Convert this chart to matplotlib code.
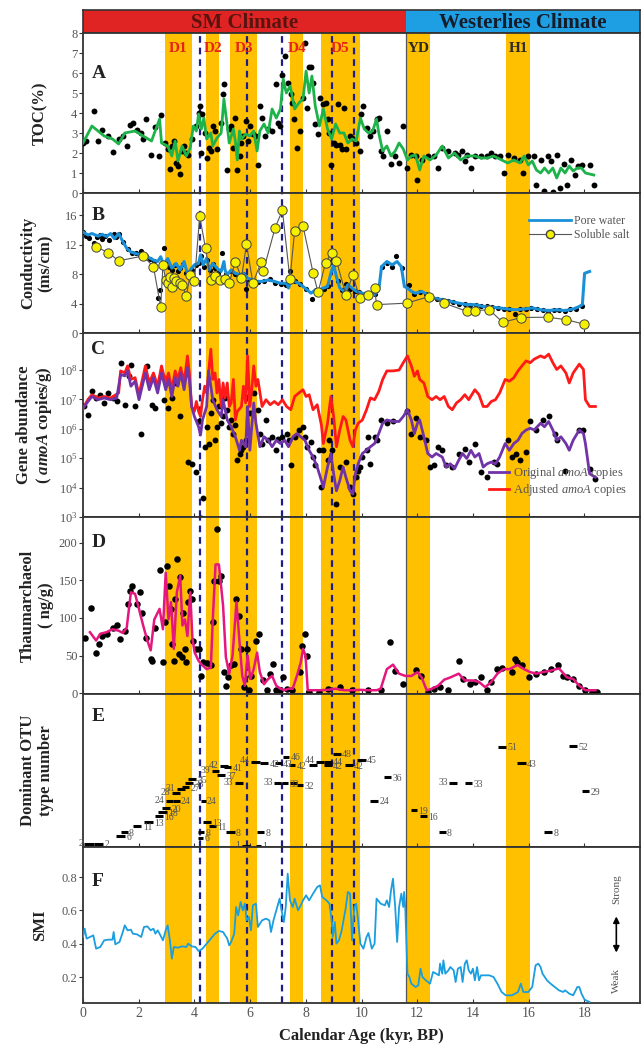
import numpy as np
import matplotlib
matplotlib.use("Agg")
import matplotlib.pyplot as plt
from matplotlib.lines import Line2D

plt.rcParams['font.family'] = ['Liberation Serif', 'DejaVu Serif']
plt.rcParams['mathtext.fontset'] = 'custom'
plt.rcParams['mathtext.rm'] = 'Liberation Serif'
plt.rcParams['mathtext.it'] = 'Liberation Serif:italic'
plt.rcParams['mathtext.bf'] = 'Liberation Serif:bold'
plt.rcParams['mathtext.bfit'] = 'Liberation Serif:bold:italic'

# ---------------- data ----------------
bands = [(2.95, 3.9), (4.43, 4.9), (5.29, 6.25), (7.44, 7.91), (8.54, 9.94), (11.65, 12.47), (15.19, 16.06)]
band_names = ['D1', 'D2', 'D3', 'D4', 'D5', 'YD', 'H1']
dashed_ages = [4.19, 5.88, 7.16, 8.94, 9.74]
boundary_age = 11.6
climate_names = ['SM Climate', 'Westerlies Climate']

# A: TOC
toc_dot_age = [0, 0.1, 0.4, 0.55, 0.7, 0.9, 1.06, 1.28, 1.43, 1.57, 1.69, 1.8, 1.94, 2.09, 2.16, 2.28, 2.43, 2.57, 2.72, 2.79,
               2.93, 3.04, 3.12, 3.19, 3.26, 3.34, 3.41, 3.49, 3.56, 3.63, 3.71, 3.78, 3.93, 4.04, 4.15, 4.19, 4.25, 4.29, 4.37, 4.44,
               4.51, 4.59, 4.66, 4.74, 4.81, 4.96, 5.03, 5.07, 5.18, 5.25, 5.31, 5.4, 5.47, 5.54, 5.62, 5.69, 5.76, 5.84, 5.91, 5.99,
               6.1, 6.2, 6.28, 6.35, 6.43, 6.54, 6.65, 6.79, 6.94, 7.01, 7.09, 7.16, 7.26, 7.35, 7.46, 7.49, 7.57, 7.68, 7.78, 7.9,
               7.97, 8.04, 8.12, 8.19, 8.26, 8.34, 8.44, 8.51, 8.6, 8.71, 8.78, 8.85, 8.9, 9.0, 9.07, 9.15, 9.22, 9.29, 9.37, 9.44,
               9.59, 9.66, 9.81, 9.93, 9.99, 10.07, 10.18, 10.32, 10.43, 10.54, 10.62, 10.69, 10.76, 10.91, 11.06, 11.21, 11.35, 11.5,
               11.65, 11.79, 11.94, 12.01, 12.16, 12.38, 12.6, 12.75, 12.9, 13.12, 13.34, 13.48, 13.6, 13.71, 13.78, 13.93, 14.07,
               14.29, 14.51, 14.66, 14.81, 14.96, 15.13, 15.25, 15.47, 15.69, 15.81, 15.99, 16.2, 16.28, 16.43, 16.54, 16.69, 16.79,
               16.87, 17.01, 17.13, 17.28, 17.38, 17.53, 17.68, 17.78, 17.93, 18.19, 18.34]
toc_dot_val = [2.5, 2.6, 4.1, 2.6, 3.15, 2.85, 2.05, 2.7, 2.85, 2.35, 3.4, 3.5, 3.15, 3.0, 2.7, 3.7, 1.9, 3.3, 1.85, 3.9,
               2.5, 2.2, 1.2, 2.35, 2.6, 1.5, 1.35, 0.95, 2.1, 2.35, 2.0, 1.9, 2.7, 3.35, 4.0, 4.35, 2.0, 3.95, 3.0, 1.75,
               2.25, 2.1, 3.35, 3.1, 2.2, 3.5, 4.95, 5.45, 1.15, 3.2, 3.35, 2.25, 3.75, 1.15, 1.85, 2.5, 2.85, 3.6, 2.6, 3.35,
               2.95, 2.85, 1.4, 4.35, 3.75, 2.85, 3.2, 3.1, 5.45, 3.5, 3.35, 5.9, 6.85, 5.5, 4.95, 4.5, 3.7, 2.25, 3.1, 4.75,
               7.5, 4.25, 6.3, 6.3, 5.5, 3.45, 2.95, 4.75, 4.45, 4.5, 3.7, 3.0, 1.4, 2.5, 2.4, 4.45, 2.4, 2.2, 4.25, 2.2,
               2.85, 2.75, 2.5, 2.1, 3.95, 4.35, 3.25, 2.85, 3.1, 3.7, 3.75, 2.1, 1.85, 3.1, 1.45, 1.85, 1.5, 3.35,
               1.25, 1.9, 1.85, 0.65, 1.65, 1.85, 1.85, 1.25, 2.25, 2.1, 2.0, 1.9, 2.1, 1.6, 1.9, 1.25, 1.85,
               1.85, 1.85, 2.0, 1.85, 1.85, 1.0, 1.9, 1.75, 1.65, 1.0, 1.85, 1.85, 0.4, 1.65, 0.1, 1.85, 1.6,
               0.05, 1.9, 0.25, 1.45, 0.4, 1.65, 0.9, 1.35, 1.4, 1.4, 0.4]
toc_line_age = [0, 0.32, 0.54, 0.76, 1.06, 1.28, 1.5, 1.87, 2.16, 2.46, 2.75, 2.82, 3.04, 3.19, 3.31, 3.41, 3.56, 3.71, 3.85, 3.96,
                4.07, 4.15, 4.25, 4.34, 4.44, 4.59, 4.66, 4.81, 4.96, 5.06, 5.18, 5.25, 5.4, 5.47, 5.54, 5.62, 5.69, 5.84, 5.99, 6.13,
                6.25, 6.35, 6.5, 6.65, 6.79, 6.94, 7.09, 7.19, 7.3, 7.44, 7.6, 7.75, 7.9, 8.01, 8.12, 8.22, 8.34, 8.49, 8.63, 8.78,
                8.93, 9.07, 9.22, 9.37, 9.51, 9.66, 9.81, 9.96, 10.1, 10.25, 10.4, 10.54, 10.62, 10.76, 10.91, 11.06, 11.21, 11.35,
                11.5, 11.65, 11.79, 11.94, 12.09, 12.24, 12.46, 12.68, 12.9, 13.12, 13.34, 13.56, 13.78, 14.07, 14.29, 14.51, 14.74,
                14.96, 15.25, 15.47, 15.69, 15.84, 15.99, 16.13, 16.28, 16.43, 16.57, 16.72, 16.87, 17.01, 17.16, 17.31, 17.46,
                17.6, 17.75, 17.9, 18.04, 18.34]
toc_line_val = [2.5, 3.35, 3.1, 2.85, 2.7, 2.45, 3.0, 3.1, 2.85, 2.6, 3.7, 2.5, 2.35, 1.85, 2.6, 1.6, 2.35, 1.85, 2.25, 3.35,
                3.1, 3.95, 3.2, 3.75, 2.7, 3.0, 2.35, 2.75, 3.0, 4.7, 3.35, 2.5, 3.2, 2.6, 1.65, 3.1, 2.7, 2.95, 2.85, 3.1,
                2.1, 3.1, 3.45, 3.0, 4.2, 3.75, 4.2, 5.7, 5.0, 5.35, 4.2, 4.5, 4.7, 6.1, 5.0, 5.85, 4.35, 3.35, 4.2, 3.2,
                2.7, 3.45, 3.0, 3.0, 2.5, 2.7, 2.6, 3.75, 3.2, 3.0, 3.1, 3.7, 3.0, 2.1, 2.35, 1.85, 2.1, 2.5,
                2.2, 1.65, 1.85, 1.9, 1.15, 1.85, 1.65, 1.9, 2.35, 1.75, 2.0, 1.65, 1.85, 1.85, 1.75, 1.75, 1.85,
                1.7, 1.5, 1.65, 1.5, 1.85, 1.4, 1.6, 1.15, 1.0, 1.25, 1.0, 1.25, 0.75, 1.25, 1.0, 1.35,
                1.1, 1.25, 1.25, 1.0, 0.9]

# B: conductivity
pore_line_age = [0, 0.18, 0.32, 0.54, 0.69, 0.84, 0.99, 1.13, 1.28, 1.43, 1.57, 1.72, 1.87, 2.09, 2.31, 2.53, 2.68, 2.79, 2.9, 3.04,
                 3.19, 3.34, 3.49, 3.63, 3.78, 3.85, 4.0, 4.15, 4.22, 4.32, 4.44, 4.54, 4.66, 4.81, 4.96, 5.06, 5.1, 5.18, 5.32, 5.47,
                 5.62, 5.76, 5.91, 6.06, 6.21, 6.43, 6.65, 6.87, 7.09, 7.31, 7.38, 7.49, 7.6, 7.75, 7.97, 8.19, 8.34, 8.49, 8.63, 8.78,
                 8.9, 9.0, 9.1, 9.22, 9.37, 9.51, 9.66, 9.81, 10.03, 10.25, 10.47, 10.62, 10.72, 10.91, 11.1, 11.28, 11.43, 11.54,
                 11.65, 11.79, 11.94, 12.16, 12.38, 12.6, 12.9, 13.19, 13.49, 13.78, 14.07, 14.37, 14.66, 14.96, 15.25, 15.54, 15.84,
                 16.13, 16.43, 16.72, 17.01, 17.31, 17.6, 17.82, 17.93, 18.01, 18.19]
pore_line_val = [13.7, 13.3, 13.5, 13.15, 13.4, 13.1, 13.5, 12.8, 13.5, 12.4, 11.5, 11.0, 10.8, 10.6, 10.35, 9.9, 9.7, 10.35, 9.2, 10.1,
                 8.8, 9.45, 8.55, 9.7, 7.65, 8.55, 9.25, 9.45, 10.6, 9.25, 10.15, 8.55, 9.45, 8.8, 8.35, 9.7, 8.55, 7.9, 8.55, 8.1,
                 7.9, 8.1, 7.45, 7.2, 7.0, 7.0, 7.2, 7.0, 6.75, 6.75, 6.1, 7.45, 7.0, 6.75, 6.1, 5.4, 5.85, 5.85, 6.1, 6.3,
                 8.1, 9.25, 7.65, 6.1, 5.65, 6.55, 6.1, 5.65, 5.4, 5.2, 5.2, 5.85, 9.0, 9.7, 9.25, 9.7, 9.0, 6.3,
                 6.1, 5.65, 5.4, 5.65, 5.2, 4.75, 4.5, 4.3, 4.05, 3.85, 3.85, 3.6, 3.5, 3.4, 3.25, 3.15, 3.25,
                 3.4, 3.15, 3.05, 3.15, 3.05, 3.25, 3.6, 3.85, 8.1, 8.35]
pore_dot_age = [0, 0.1, 0.2, 0.4, 0.5, 0.6, 0.7, 0.8, 0.95, 1.1, 1.2, 1.3, 1.45, 1.6, 1.75, 1.9, 2.05, 2.1, 2.25, 2.4,
                2.55, 2.68, 2.75, 2.9, 3.0, 3.1, 3.2, 3.3, 3.4, 3.5, 3.6, 3.7, 3.8, 3.9, 4.05, 4.15, 4.25, 4.35, 4.45, 4.55,
                4.65, 4.75, 4.85, 5.0, 5.15, 5.3, 5.45, 5.6, 5.75, 5.85, 6.0, 6.15, 6.3, 6.5, 6.7, 6.9, 7.1, 7.3, 7.45, 7.6,
                7.8, 8.0, 8.22, 8.35, 8.5, 8.65, 8.78, 8.9, 9.0, 9.15, 9.3, 9.45, 9.6, 9.75, 9.9, 10.1, 10.3, 10.5, 10.75, 10.9,
                11.1, 11.25, 11.45, 11.7, 11.9, 12.1, 12.3, 12.5, 12.7, 12.9, 13.1, 13.3, 13.5, 13.7, 13.9, 14.1, 14.3, 14.5, 14.7, 14.9,
                15.1, 15.3, 15.5, 15.7, 15.9, 16.1, 16.3, 16.5, 16.7, 16.9, 17.1, 17.3, 17.5, 17.7, 17.9]
pore_dot_val = [13.7, 13.2, 12.9, 12.2, 13.0, 13.3, 12.8, 13.2, 12.6, 13.4, 13.0, 13.4, 12.3, 11.4, 10.9, 10.8, 10.6, 11.1, 10.4, 10.0,
                9.8, 4.8, 5.9, 11.6, 9.8, 8.9, 8.6, 9.2, 8.4, 8.8, 9.4, 8.2, 7.8, 8.6, 9.2, 9.5, 10.4, 9.0, 9.9, 8.5,
                9.3, 8.8, 8.2, 10.9, 8.0, 8.4, 8.0, 7.8, 8.0, 6.0, 7.2, 7.0, 6.9, 7.1, 7.3, 6.8, 6.7, 6.5, 8.4, 7.0,
                6.6, 6.0, 4.6, 5.8, 5.8, 6.0, 6.4, 9.6, 9.3, 7.0, 5.8, 6.6, 6.0, 5.7, 5.5, 5.3, 5.2, 5.3, 9.0, 9.5,
                9.0, 10.4, 8.8, 6.5, 5.3, 5.5, 5.3, 4.8, 4.6, 4.5, 4.3, 4.2, 4.0, 3.9, 3.8, 3.8, 3.6, 3.6, 3.5, 3.4,
                3.3, 3.2, 2.6, 3.2, 3.3, 3.4, 3.2, 3.1, 3.0, 3.1, 3.1, 3.0, 3.2, 3.3, 3.7]
salt_age = [0.47, 0.91, 1.28, 2.16, 2.53, 2.79, 2.87, 2.97, 3.04, 3.12, 3.19, 3.26, 3.34, 3.49, 3.56, 3.71, 3.85, 4.0, 4.19, 4.4,
            4.59, 4.74, 4.91, 5.1, 5.25, 5.47, 5.69, 5.87, 6.1, 6.4, 6.47, 6.9, 7.16, 7.43, 7.6, 7.9, 8.26, 8.44, 8.71, 8.93,
            9.1, 9.44, 9.69, 9.93, 10.25, 10.47, 10.54, 11.62, 12.43, 12.97, 13.78, 14.07, 14.59, 15.07, 15.74, 16.69, 17.35, 18.0]
salt_val = [11.7, 10.9, 9.8, 10.45, 9.0, 3.5, 9.25, 7.2, 6.75, 7.65, 6.3, 7.45, 7.0, 6.75, 6.55, 5.05, 7.9, 7.0, 15.85, 11.5,
            7.2, 7.75, 7.2, 7.3, 6.75, 9.7, 7.45, 12.05, 6.75, 9.7, 8.35, 14.3, 16.65, 7.3, 13.85, 14.5, 8.2, 5.5, 9.55, 10.9,
            9.8, 5.2, 7.9, 4.75, 5.2, 6.1, 3.85, 4.05, 4.95, 4.05, 2.95, 3.05, 3.15, 1.45, 2.1, 2.15, 1.8, 1.2]

# C: gene abundance (log10 copies/g)
adj_age = [0, 0.18, 0.32, 0.54, 0.76, 0.99, 1.13, 1.28, 1.35, 1.5, 1.6, 1.72, 1.87, 2.01, 2.24, 2.38, 2.53, 2.68, 2.82, 2.97,
           3.07, 3.19, 3.31, 3.41, 3.51, 3.63, 3.75, 3.82, 3.9, 4.0, 4.07, 4.15, 4.22, 4.29, 4.37, 4.44, 4.51, 4.59, 4.66, 4.74,
           4.81, 4.88, 4.96, 5.03, 5.1, 5.18, 5.25, 5.32, 5.4, 5.47, 5.54, 5.69, 5.76, 5.84, 5.91, 5.99, 6.06, 6.13, 6.21, 6.28,
           6.43, 6.57, 6.72, 6.87, 7.01, 7.16, 7.31, 7.46, 7.6, 7.75, 7.9, 8.01, 8.12, 8.26, 8.41, 8.56, 8.63, 8.78, 8.9, 9.0,
           9.1, 9.22, 9.34, 9.44, 9.59, 9.69, 9.78, 9.88, 10.03, 10.18, 10.32, 10.47, 10.62, 10.76, 10.91, 11.13, 11.35, 11.5,
           11.65, 11.79, 11.9, 12.01, 12.09, 12.24, 12.38, 12.53, 12.68, 12.82, 12.97, 13.12, 13.26, 13.41, 13.56, 13.71, 13.85,
           14.07, 14.22, 14.37, 14.51, 14.66, 14.81, 14.96, 15.16, 15.31, 15.47, 15.62, 15.76, 15.91, 16.06, 16.2, 16.43, 16.57,
           16.72, 16.87, 17.01, 17.16, 17.34, 17.46, 17.6, 17.82, 17.97, 18.04, 18.19, 18.4]
adj_log = [6.7, 7.0, 7.16, 7.05, 7.1, 7.05, 7.13, 7.22, 7.97, 7.9, 8.14, 7.68, 7.74, 7.16, 8.14, 7.56, 7.9, 7.45, 8.14, 7.56,
           7.9, 7.33, 7.97, 7.68, 8.08, 7.56, 8.48, 7.9, 6.76, 6.59, 6.93, 6.59, 6.42, 6.99, 7.45, 7.22, 7.9, 8.71, 7.68, 7.9,
           7.22, 7.68, 6.76, 7.56, 7.05, 7.56, 6.76, 6.88, 7.68, 6.3, 6.59, 6.76, 7.45, 6.88, 8.48, 6.76, 7.33, 8.14, 7.45, 7.68,
           6.76, 6.99, 6.82, 6.93, 6.82, 6.99, 6.76, 6.65, 7.1, 7.22, 7.33, 7.1, 7.16, 6.65, 6.82, 6.13, 5.5, 6.19, 7.1, 6.42,
           5.39, 5.96, 6.42, 6.3, 5.61, 5.39, 5.96, 6.19, 6.3, 6.65, 7.05, 6.99, 7.27, 7.68, 7.97, 7.97, 8.0, 8.25,
           8.48, 8.14, 7.79, 7.97, 7.68, 7.56, 7.1, 6.99, 7.1, 6.99, 7.1, 6.76, 6.65, 6.88, 6.99, 7.16, 6.99,
           7.33, 7.16, 6.76, 6.76, 6.93, 6.99, 7.22, 7.68, 7.62, 7.74, 7.97, 8.14, 8.31, 8.25, 8.37, 8.48, 8.42,
           8.54, 8.25, 8.02, 8.14, 7.9, 7.56, 7.9, 8.2, 8.02, 6.99, 6.76, 6.76]
orig_age = [0, 0.18, 0.32, 0.54, 0.76, 0.99, 1.21, 1.35, 1.5, 1.6, 1.72, 1.87, 2.01, 2.24, 2.38, 2.53, 2.68, 2.82, 2.97, 3.07,
            3.19, 3.31, 3.41, 3.51, 3.63, 3.75, 3.82, 3.9, 4.0, 4.15, 4.22, 4.29, 4.44, 4.51, 4.66, 4.81, 4.96, 5.03, 5.18, 5.32,
            5.47, 5.62, 5.69, 5.84, 5.91, 5.99, 6.13, 6.21, 6.35, 6.5, 6.65, 6.79, 6.94, 7.09, 7.24, 7.38, 7.54, 7.68, 7.82, 7.97,
            8.12, 8.26, 8.41, 8.56, 8.63, 8.78, 8.9, 9.0, 9.1, 9.22, 9.34, 9.44, 9.59, 9.69, 9.78, 9.88, 10.03, 10.18, 10.32, 10.47,
            10.62, 10.76, 10.91, 11.13, 11.35, 11.5, 11.65, 11.79, 11.9, 12.01, 12.09, 12.24, 12.38, 12.53, 12.68, 12.9, 13.04,
            13.19, 13.34, 13.49, 13.63, 13.78, 13.93, 14.07, 14.22, 14.37, 14.51, 14.66, 14.81, 14.96, 15.16, 15.31, 15.47, 15.62,
            15.76, 15.91, 16.06, 16.2, 16.43, 16.57, 16.72, 16.87, 17.01, 17.16, 17.34, 17.46, 17.6, 17.82, 17.97, 18.04, 18.19, 18.4]
orig_log = [6.7, 6.93, 7.1, 6.99, 7.05, 6.99, 7.05, 7.85, 7.8, 7.97, 7.45, 7.62, 6.99, 7.9, 7.33, 7.74, 7.22, 7.9, 7.33, 7.68,
            7.1, 7.74, 7.45, 7.9, 7.33, 8.08, 7.68, 6.76, 6.42, 6.07, 5.79, 6.3, 6.76, 7.97, 6.99, 6.65, 6.42, 6.99, 6.3, 6.07,
            5.73, 5.27, 5.61, 5.39, 6.76, 5.27, 6.88, 6.19, 5.39, 5.73, 5.61, 5.39, 5.61, 5.5, 5.61, 5.39, 5.73, 5.84, 5.73, 5.61,
            5.27, 5.04, 4.7, 4.24, 4.01, 4.7, 5.16, 4.47, 3.89, 4.24, 4.7, 4.35, 3.89, 3.78, 4.47, 4.81, 5.16, 5.27, 5.39, 5.5,
            5.84, 6.19, 6.3, 6.25, 6.25, 6.42, 6.65, 6.3, 5.84, 6.19, 6.3, 5.73, 5.16, 5.04, 5.16, 5.04, 4.7,
            4.81, 4.64, 4.93, 5.16, 4.99, 5.27, 5.04, 5.16, 4.7, 4.81, 4.87, 4.81, 5.04, 5.5, 5.27, 5.5, 5.61,
            5.84, 5.96, 6.02, 5.96, 6.19, 6.07, 6.25, 5.96, 5.61, 5.73, 5.5, 5.27, 5.61, 5.96, 5.84, 5.5, 4.47, 4.35]
gene_dot_age = [0.02, 0.18, 0.32, 0.47, 0.62, 0.76, 0.91, 1.06, 1.21, 1.38, 1.5, 1.65, 1.72, 1.87, 2.09, 2.31, 2.46, 2.6, 2.82, 2.9,
                3.04, 3.19, 3.34, 3.49, 3.63, 3.78, 3.93, 4.07, 4.15, 4.22, 4.32, 4.37, 4.44, 4.51, 4.59, 4.66, 4.74, 4.81, 4.88, 4.96,
                5.03, 5.1, 5.18, 5.25, 5.32, 5.4, 5.47, 5.54, 5.62, 5.69, 5.76, 5.84, 5.91, 6.01, 6.13, 6.28, 6.35, 6.43, 6.57, 6.65,
                6.79, 6.94, 7.01, 7.16, 7.31, 7.38, 7.46, 7.6, 7.75, 7.9, 7.97, 8.04, 8.19, 8.26, 8.34, 8.49, 8.56, 8.63, 8.78, 8.85,
                8.93, 9.07, 9.22, 9.44, 9.59, 9.69, 9.81, 9.88, 9.96, 10.03, 10.18, 10.25, 10.32, 10.47, 10.54, 10.69, 10.91, 11.13,
                11.65, 11.79, 11.94, 12.09, 12.31, 12.46, 12.6, 12.75, 12.9, 13.04, 13.26, 13.49, 13.71, 13.85, 14.07, 14.29, 14.51,
                14.74, 14.88, 15.25, 15.4, 15.54, 15.69, 15.91, 16.06, 16.28, 16.5, 16.72, 16.94, 17.01, 17.31, 17.82, 17.97, 18.19, 18.4]
gene_dot_log = [6.76, 6.47, 7.28, 7.05, 7.16, 6.88, 7.22, 7.05, 6.93, 8.23, 6.82, 7.79, 8.16, 6.76, 5.84, 8.14, 6.82, 6.7, 7.79, 6.99,
                6.7, 7.05, 7.56, 6.42, 7.79, 4.87, 4.81, 4.53, 6.25, 2.98, 3.66, 5.39, 6.07, 5.5, 6.53, 6.99, 5.61, 6.07, 6.76, 6.19,
                6.42, 7.05, 6.65, 6.07, 6.3, 5.84, 6.13, 4.93, 5.16, 5.27, 5.39, 5.61, 5.96, 6.53, 7.22, 6.65, 5.84, 5.5, 6.3, 5.61,
                5.73, 5.27, 5.67, 5.73, 5.84, 5.61, 4.76, 5.73, 5.96, 6.07, 5.73, 5.39, 5.56, 5.04, 4.76, 5.27, 4.01, 5.27, 4.93, 5.61,
                5.27, 3.44, 4.7, 4.87, 4.01, 3.78, 4.35, 4.58, 4.7, 5.04, 5.27, 5.73, 4.81, 5.73, 5.61, 6.3, 6.19, 6.25,
                6.59, 5.84, 6.36, 5.73, 5.61, 4.7, 4.76, 5.39, 5.27, 4.76, 4.7, 5.16, 5.33, 4.87, 5.5, 4.53, 4.35,
                4.87, 4.81, 5.61, 5.04, 5.16, 4.93, 5.22, 6.25, 5.96, 6.3, 6.42, 5.84, 5.61, 4.58, 5.96, 5.96, 4.64, 4.3]

# D: thaumarchaeol (ng/g)
thaum_line_age = [0.25, 0.47, 0.62, 0.84, 1.06, 1.28, 1.43, 1.57, 1.72, 1.87, 2.01, 2.16, 2.31, 2.43, 2.56, 2.75, 2.87, 2.97, 3.07, 3.16,
                  3.26, 3.37, 3.49, 3.57, 3.66, 3.75, 3.85, 3.93, 4.01, 4.15, 4.29, 4.44, 4.59, 4.66, 4.76, 4.88, 5.03, 5.13, 5.25, 5.37,
                  5.51, 5.62, 5.72, 5.81, 5.91, 6.01, 6.13, 6.25, 6.35, 6.5, 6.65, 6.79, 6.94, 7.09, 7.24, 7.38, 7.53, 7.68, 7.82, 7.9,
                  7.99, 8.07, 8.26, 8.49, 8.78, 9.07, 9.37, 9.66, 9.96, 10.25, 10.54, 10.69, 10.91, 11.13, 11.35, 11.57, 11.79, 12.01,
                  12.16, 12.34, 12.53, 12.75, 12.97, 13.19, 13.49, 13.71, 13.99, 14.22, 14.44, 14.66, 14.88, 15.1, 15.31, 15.6, 15.84,
                  16.06, 16.28, 16.5, 16.79, 17.09, 17.38, 17.6, 17.82, 18.04, 18.4]
thaum_line_val = [81, 70, 79, 81, 85, 83, 80, 87, 134, 132, 112, 90, 70, 57, 98, 112, 85, 160, 98, 121,
                  59, 134, 156, 90, 98, 76, 134, 72, 54, 43, 37, 32, 34, 98, 171, 171, 116, 48, 26, 50,
                  121, 68, 23, 10, 50, 19, 32, 54, 28, 12, 19, 23, 10, 6, 4, 6, 6, 23, 41, 59,
                  50, 4, 4, 4, 4.5, 6, 4, 4, 4.5, 4, 4, 6, 32, 38, 26, 23, 23, 28,
                  21, 4, 6, 10, 18, 21, 26, 17, 17, 15, 8, 15, 26, 32, 32, 37.5, 32,
                  28, 26, 28, 30, 33, 21, 19, 10, 4, 4]
thaum_dot_age = [0.06, 0.28, 0.47, 0.57, 0.69, 0.87, 1.06, 1.21, 1.32, 1.5, 1.6, 1.69, 1.75, 1.94, 2.04, 2.12, 2.28, 2.43, 2.49, 2.57,
                 2.78, 2.87, 2.93, 3.01, 3.09, 3.16, 3.19, 3.25, 3.31, 3.37, 3.43, 3.49, 3.54, 3.6, 3.66, 3.71, 3.78, 3.84, 3.9, 3.96,
                 4.07, 4.16, 4.22, 4.32, 4.44, 4.59, 4.66, 4.72, 4.81, 4.88, 4.96, 5.07, 5.13, 5.22, 5.32, 5.43, 5.51, 5.59, 5.69, 5.79,
                 5.88, 5.96, 6.04, 6.21, 6.31, 6.46, 6.6, 6.72, 6.84, 6.94, 7.09, 7.19, 7.31, 7.49, 7.79, 7.87, 7.97, 8.04, 8.12, 8.49,
                 8.78, 9.22, 9.66, 10.25, 10.69, 11.01, 11.19, 11.5, 11.97, 12.15, 12.37, 12.6, 12.82, 13.12, 13.49, 13.63, 13.9, 14.07,
                 14.29, 14.51, 14.66, 14.88, 15.03, 15.4, 15.51, 15.6, 15.76, 16.0, 16.28, 16.57, 16.79, 17.04, 17.24, 17.38, 17.6,
                 17.82, 18.04, 18.26, 18.46]
thaum_dot_val = [74, 113, 54, 65, 76, 79, 87, 90, 72, 82, 118, 136, 143, 118, 134, 106, 74, 45, 43, 87,
                 163, 41, 94, 169, 143, 112, 65, 43, 125, 178, 52, 154, 48, 107, 59, 41, 121, 136, 125, 70,
                 59, 59, 23, 41, 40, 37, 94, 149, 218, 149, 156, 28, 10, 21, 37, 39, 125, 103, 59, 8,
                 59, 4, 23, 70, 79, 17, 4, 26, 39, 4, 4, 21, 6, 4, 28, 63, 79, 50, 1, 2,
                 5, 8, 4, 4, 4, 68, 29, 12, 31, 23, 1, 6, 8, 4, 43, 19, 12, 15,
                 21, 4, 15, 32, 33, 28, 45, 42, 37, 21, 26, 28, 32, 37, 23, 21, 19,
                 10, 4, 1, 1]

# E: dominant OTU type
otu_start = [0.05, 0.38, 1.2, 1.35, 1.8, 2.2, 2.58, 2.7, 2.83, 2.97, 3.22, 3.2, 3.37, 3.55, 3.67, 3.78, 4.12, 4.12, 4.22, 4.3,
             4.53, 4.63, 4.8, 4.93, 5.05, 5.12, 5.44, 5.7, 6.03, 6.35, 6.2, 6.26, 6.87, 7.13, 6.88, 7.19, 7.4, 7.43, 7.67, 8.13,
             8.37, 8.67, 8.67, 8.96, 9.39, 9.84, 10.3, 10.8, 11.76, 12.1, 12.78, 13.15, 13.7, 14.9, 15.6, 16.55, 17.45, 17.9]
otu_end = [0.38, 0.72, 1.5, 1.6, 2.1, 2.5, 2.87, 3.0, 3.12, 3.22, 3.47, 3.5, 3.67, 3.82, 3.95, 4.05, 4.3, 4.36, 4.4, 4.6,
           4.77, 4.87, 5.1, 5.2, 5.33, 5.44, 5.73, 6.0, 6.35, 6.66, 6.4, 6.5, 7.1, 7.35, 7.13, 7.41, 7.62, 7.67, 7.9, 8.4,
           8.67, 8.93, 8.93, 9.25, 9.68, 10.15, 10.6, 11.05, 12.0, 12.35, 13.02, 13.44, 13.98, 15.2, 15.9, 16.85, 17.75, 18.17]
otu_type = [2, 2, 6, 8, 11, 13, 16, 18, 20, 24, 24, 28, 31, 27, 33, 35, 6, 8, 24, 13,
            11, 39, 37, 42, 41, 8, 33, 1, 44, 42, 1, 8, 33, 33, 43, 46, 42, 33, 32, 42,
            44, 44, 42, 48, 42, 45, 24, 36, 19, 16, 8, 33, 33, 51, 43, 8, 52, 29]
otu_level = [2, 2, 6, 8, 11, 13, 16, 18, 20, 24, 24, 28, 30, 31, 33, 35, 5, 8, 24, 13,
             11, 39, 37, 41.5, 41, 8, 33, 1, 44, 43, 1, 8, 33, 33, 43, 46.5, 42, 33, 32, 42,
             44, 44, 42, 48, 42, 45, 24, 36, 19, 16, 8, 33, 33, 51.5, 43, 8, 52, 29]
otu_side = ['l', 'r', 'r', 'r', 'r', 'r', 'r', 'r', 'r', 'l', 'r', 'l', 'l', 'r', 'r', 'r', 'r', 'r', 'r', 'r',
            'r', 'l', 'r', 'l', 'r', 'r', 'l', 'l', 'l', 'r', 'r', 'r', 'l', 'r', 'r', 'r', 'r', 'n', 'r', 'n',
            'l', 'r', 'r', 'r', 'r', 'r', 'r', 'r', 'r', 'r', 'r', 'l', 'r', 'r', 'r', 'r', 'r', 'r']

# F: SMI
smi_age = [0, 0.06, 0.13, 0.25, 0.37, 0.47, 0.62, 0.76, 0.91, 1.06, 1.1, 1.16, 1.31, 1.43, 1.5, 1.6, 1.72, 1.79, 1.94, 2.09,
           2.19, 2.31, 2.43, 2.53, 2.6, 2.68, 2.78, 2.87, 2.97, 3.04, 3.12, 3.19, 3.26, 3.41, 3.56, 3.71, 3.78, 3.9, 4.04, 4.15,
           4.29, 4.44, 4.59, 4.74, 4.88, 5.03, 5.18, 5.25, 5.32, 5.43, 5.5, 5.57, 5.66, 5.74, 5.81, 5.88, 5.96, 6.03, 6.1, 6.21,
           6.28, 6.43, 6.57, 6.69, 6.75, 6.84, 6.94, 7.06, 7.13, 7.21, 7.28, 7.35, 7.43, 7.53, 7.6, 7.72, 7.82, 7.9, 8.01, 8.12,
           8.26, 8.41, 8.51, 8.59, 8.74, 8.85, 8.93, 8.97, 9.04, 9.1, 9.19, 9.29, 9.44, 9.51, 9.59, 9.66, 9.74, 9.81, 9.88, 9.96,
           10.07, 10.18, 10.25, 10.37, 10.47, 10.54, 10.69, 10.84, 10.91, 10.99, 11.06, 11.13, 11.21, 11.28, 11.35, 11.43, 11.5,
           11.53, 11.57, 11.65, 11.72, 11.79, 11.94, 12.04, 12.12, 12.19, 12.31, 12.46, 12.57, 12.68, 12.78, 12.82, 12.9, 12.94,
           13.01, 13.12, 13.19, 13.31, 13.38, 13.46, 13.56, 13.63, 13.71, 13.78, 13.85, 13.93, 14.0, 14.07, 14.15, 14.22, 14.29,
           14.37, 14.59, 14.74, 14.88, 15.03, 15.18, 15.4, 15.62, 15.72, 15.81, 15.99, 16.13, 16.25, 16.35, 16.43, 16.5, 16.66,
           16.79, 16.94, 17.09, 17.24, 17.31, 17.46, 17.6, 17.75, 17.82, 17.9, 18.01, 18.19]
smi_val = [0.44, 0.49, 0.43, 0.44, 0.45, 0.37, 0.38, 0.42, 0.424, 0.424, 0.47, 0.396, 0.41, 0.47, 0.51, 0.48, 0.484, 0.46, 0.456, 0.44,
           0.5, 0.504, 0.48, 0.49, 0.46, 0.48, 0.45, 0.42, 0.48, 0.51, 0.42, 0.31, 0.38, 0.376, 0.384, 0.38, 0.4, 0.384, 0.38, 0.356,
           0.37, 0.4, 0.43, 0.46, 0.476, 0.47, 0.43, 0.39, 0.41, 0.46, 0.62, 0.57, 0.65, 0.6, 0.64, 0.54, 0.56, 0.48, 0.63, 0.64,
           0.5, 0.54, 0.55, 0.54, 0.47, 0.54, 0.6, 0.67, 0.6, 0.53, 0.62, 0.82, 0.66, 0.62, 0.67, 0.6, 0.63, 0.66, 0.69, 0.66,
           0.7, 0.74, 0.75, 0.68, 0.66, 0.64, 0.54, 0.44, 0.53, 0.4, 0.42, 0.48, 0.62, 0.71, 0.7, 0.42, 0.62, 0.64, 0.54, 0.4,
           0.37, 0.44, 0.464, 0.37, 0.4, 0.67, 0.64, 0.63, 0.66, 0.62, 0.72, 0.79, 0.62, 0.41, 0.62, 0.7, 0.62,
           0.71, 0.62, 0.22, 0.2, 0.16, 0.14, 0.15, 0.25, 0.2, 0.18, 0.16, 0.23, 0.22, 0.21, 0.28, 0.22, 0.3,
           0.22, 0.24, 0.26, 0.24, 0.17, 0.25, 0.26, 0.17, 0.28, 0.3, 0.24, 0.22, 0.25, 0.18, 0.26, 0.18, 0.21,
           0.21, 0.21, 0.2, 0.16, 0.11, 0.09, 0.09, 0.11, 0.16, 0.11, 0.11, 0.14, 0.27, 0.28, 0.26, 0.22, 0.18,
           0.16, 0.14, 0.12, 0.11, 0.12, 0.1, 0.09, 0.14, 0.14, 0.1, 0.064, 0.05]

x_ticks = [0, 2, 4, 6, 8, 10, 12, 14, 16, 18]

# ---------------- style ----------------
GOLD = '#ffc000'
NAVY = '#1c1c8a'
GRAY_TXT = '#555555'
FRAME = '#333333'

W, H = 643, 1046
fig = plt.figure(figsize=(W / 100, H / 100), dpi=100)

left = 83 / W
width = (640 - 83) / W


def add_ax(top_px, bot_px):
    return fig.add_axes([left, 1 - bot_px / H, width, (bot_px - top_px) / H])


hdr = add_ax(10, 33)
axA = add_ax(33, 193)
axB = add_ax(193, 333)
axC = add_ax(333, 517)
axD = add_ax(517, 694)
axE = add_ax(694, 847)
axF = add_ax(847, 1003)
panels = [axA, axB, axC, axD, axE, axF]

# header
hdr.set_xlim(0, 20)
hdr.set_ylim(0, 1)
hdr.axvspan(0, boundary_age, color='#e02424', lw=0)
hdr.axvspan(boundary_age, 20, color='#1f9fe3', lw=0)
hdr.text(boundary_age / 2, 0.45, climate_names[0], ha='center', va='center', fontsize=15,
         fontweight='bold', color='#5a1410')
hdr.text((boundary_age + 20) / 2, 0.45, climate_names[1], ha='center', va='center', fontsize=15,
         fontweight='bold', color='#151c2a')
hdr.set_xticks([])
hdr.set_yticks([])
for s in hdr.spines.values():
    s.set_color(FRAME)
    s.set_linewidth(1.2)

for ax in panels:
    ax.set_xlim(0, 20)
    for (a, b) in bands:
        ax.axvspan(a, b, color=GOLD, lw=0, zorder=0)
    for d in dashed_ages:
        ax.axvline(d, color=NAVY, lw=1.6, ls=(0, (3, 2.2)), zorder=1)
    ax.axvline(boundary_age, color='#555555', lw=0.9, zorder=1)
    ax.set_xticks(x_ticks)
    ax.tick_params(axis='x', direction='in', length=3, color=FRAME, labelbottom=False)
    ax.tick_params(axis='y', direction='out', length=3, color=FRAME, labelsize=9, labelcolor=GRAY_TXT, pad=1)
    for s in ax.spines.values():
        s.set_color(FRAME)
        s.set_linewidth(1.3)

label_kw = dict(fontsize=12, fontweight='bold', color='#222222', linespacing=1.15)
letter_kw = dict(fontsize=14, fontweight='bold', color='#222222', va='center', ha='left')
LAB2 = -0.052
LAB1 = -0.062

# A
axA.set_ylim(0, 8)
axA.set_yticks(range(0, 9))
axA.scatter(toc_dot_age, toc_dot_val, s=18, color='black', zorder=3, lw=0)
axA.plot(toc_line_age, toc_line_val, color='#1db34a', lw=2, zorder=4)
axA.set_ylabel('TOC(%)', **label_kw)
axA.yaxis.set_label_coords(LAB1, 0.5)
axA.text(0.3, 6.0, 'A', **letter_kw)
for (a, b), nm in zip(bands, band_names):
    col = '#e8231c' if nm.startswith('D') else '#2a2a2a'
    axA.text((a + b) / 2, 7.2, nm, ha='center', va='center', fontsize=11, fontweight='bold', color=col, zorder=5)

# B
axB.set_ylim(0, 19)
axB.set_yticks([0, 4, 8, 12, 16])
axB.scatter(pore_dot_age, pore_dot_val, s=14, color='black', zorder=3, lw=0)
axB.plot(pore_line_age, pore_line_val, color='#1a90d8', lw=2.2, zorder=4)
axB.plot(salt_age, salt_val, color='#555555', lw=0.8, zorder=5)
axB.scatter(salt_age, salt_val, s=45, color='#f5f000', edgecolor='#444444', lw=0.7, zorder=6)
axB.set_ylabel('Conductivity\n(ms/cm)', **label_kw)
axB.yaxis.set_label_coords(LAB2, 0.5)
axB.text(0.3, 16.0, 'B', **letter_kw)
hB = [Line2D([], [], color='#1a90d8', lw=2),
      Line2D([], [], color='#555555', lw=0.8, marker='o', markersize=6, markerfacecolor='#f5f000',
             markeredgecolor='#444444')]
axB.legend(hB, ['Pore water', 'Soluble salt'], loc='upper right', bbox_to_anchor=(0.995, 0.9), frameon=False,
           fontsize=8.5, labelcolor=GRAY_TXT, handlelength=3.6, borderpad=0.2, labelspacing=0.15, handletextpad=0.2)

# C
axC.set_yscale('log')
axC.set_ylim(1e3, 10 ** 9.26)
axC.set_yticks([1e3, 1e4, 1e5, 1e6, 1e7, 1e8])
axC.minorticks_off()
axC.scatter(gene_dot_age, 10 ** np.array(gene_dot_log), s=18, color='black', zorder=3, lw=0)
axC.plot(adj_age, 10 ** np.array(adj_log), color='#ff1a1a', lw=2, zorder=4)
axC.plot(orig_age, 10 ** np.array(orig_log), color='#7133a8', lw=2, zorder=5)
axC.set_ylabel('Gene abundance\n( $\\mathbfit{amoA}$ copies/g)', **label_kw)
axC.yaxis.set_label_coords(LAB2, 0.5)
axC.text(0.3, 10 ** 8.7, 'C', **letter_kw)
hC = [Line2D([], [], color='#7133a8', lw=2), Line2D([], [], color='#ff1a1a', lw=2)]
axC.legend(hC, ['Original $\\it{amoA}$ copies', 'Adjusted $\\it{amoA}$ copies'], loc='lower right',
           bbox_to_anchor=(0.99, 0.06), frameon=False, fontsize=9, labelcolor=GRAY_TXT,
           handlelength=1.6, borderpad=0.1, labelspacing=0.1, handletextpad=0.3)

# D
axD.set_ylim(-1, 234)
axD.set_yticks([0, 50, 100, 150, 200])
axD.scatter(thaum_dot_age, thaum_dot_val, s=22, color='black', zorder=3, lw=0)
axD.plot(thaum_line_age, thaum_line_val, color='#e5177f', lw=1.8, zorder=4)
axD.set_ylabel('Thaumarchaeol\n( ng/g)', **label_kw)
axD.yaxis.set_label_coords(LAB2, 0.5)
axD.text(0.3, 200, 'D', **letter_kw)

# E
axE.set_ylim(0.3, 78.5)
axE.set_yticks([])
for a, b, t, lv, sd in zip(otu_start, otu_end, otu_type, otu_level, otu_side):
    axE.plot([a, b], [lv, lv], color='black', lw=2.2, solid_capstyle='butt', zorder=4)
    if sd == 'r':
        axE.text(b + 0.05, lv - 0.6, str(t), ha='left', va='center', fontsize=7, color=GRAY_TXT, zorder=5)
    elif sd == 'l':
        axE.text(a - 0.05, lv + 0.3, str(t), ha='right', va='center', fontsize=7, color=GRAY_TXT, zorder=5)
axE.set_ylabel('Dominant OTU\ntype number', **label_kw)
axE.yaxis.set_label_coords(LAB2, 0.5)
axE.text(0.3, 67, 'E', **letter_kw)

# F
axF.set_ylim(0.044, 0.98)
axF.set_yticks([0.2, 0.4, 0.6, 0.8])
axF.plot(smi_age, smi_val, color='#1a9ee0', lw=1.3, zorder=4)
axF.set_ylabel('SMI', **label_kw)
axF.yaxis.set_label_coords(LAB1, 0.5)
axF.text(0.3, 0.77, 'F', **letter_kw)
axF.tick_params(axis='x', labelbottom=True, labelsize=10, labelcolor=GRAY_TXT, pad=3)
axF.set_xlabel('Calendar Age (kyr, BP)', fontsize=12, fontweight='bold', color='#222222', labelpad=6)
axF.annotate('', xy=(19.15, 0.58), xytext=(19.15, 0.33),
             arrowprops=dict(arrowstyle='<|-|>', color='black', lw=1.2, mutation_scale=9))
axF.text(19.15, 0.73, 'Strong', rotation=90, ha='center', va='center', fontsize=8, color=GRAY_TXT)
axF.text(19.15, 0.18, 'Weak', rotation=90, ha='center', va='center', fontsize=8, color=GRAY_TXT)

fig.savefig('out.png', dpi=100)
